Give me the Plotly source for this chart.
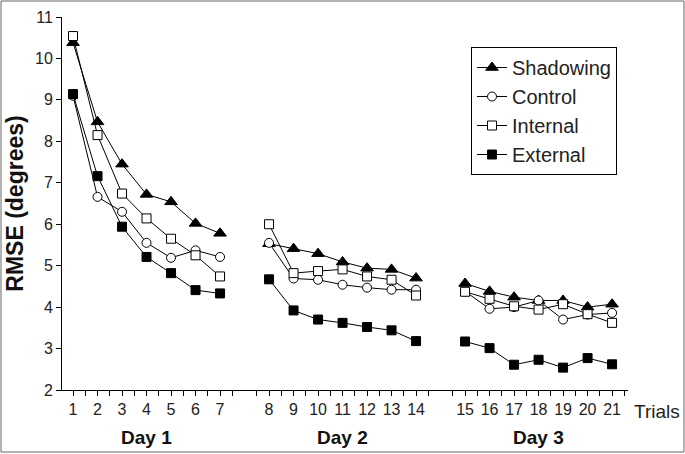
import plotly.graph_objects as go

trials = list(range(1, 22))
days = ["Day 1", "Day 2", "Day 3"]
trials_per_day = 7

shadowing = [10.38, 8.47, 7.45, 6.72, 6.54, 6.02, 5.78,
             5.53, 5.41, 5.29, 5.09, 4.94, 4.91, 4.70,
             4.57, 4.38, 4.24, 4.16, 4.16, 4.00, 4.07]
control = [9.10, 6.66, 6.30, 5.55, 5.19, 5.37, 5.21,
           5.55, 4.69, 4.66, 4.54, 4.47, 4.42, 4.42,
           4.38, 3.96, 4.00, 4.16, 3.70, 3.82, 3.86]
internal = [10.54, 8.15, 6.74, 6.14, 5.65, 5.25, 4.74,
            6.00, 4.82, 4.87, 4.91, 4.74, 4.66, 4.28,
            4.37, 4.20, 4.02, 3.94, 4.07, 3.83, 3.62]
external = [9.14, 7.16, 5.94, 5.21, 4.82, 4.41, 4.33,
            4.67, 3.92, 3.70, 3.62, 3.52, 3.44, 3.18,
            3.17, 3.01, 2.61, 2.73, 2.54, 2.77, 2.62]

series = [
    ("Shadowing", shadowing, "triangle-up", "black", 11),
    ("Control", control, "circle", "white", 9),
    ("Internal", internal, "square", "white", 9),
    ("External", external, "square", "black", 9),
]

def positions(vals):
    xs, ys = [], []
    for i, (t, v) in enumerate(zip(trials, vals)):
        d = i // trials_per_day
        if i > 0 and i % trials_per_day == 0:
            xs.append(None)
            ys.append(None)
        xs.append(t + d)
        ys.append(v)
    return xs, ys

fig = go.Figure()
for k, (name, vals, sym, fill, size) in enumerate(series):
    xs, ys = positions(vals)
    fig.add_trace(go.Scatter(
        x=xs, y=ys, name=name, mode="lines+markers", connectgaps=False,
        legendgroup=name,
        line=dict(color="black", width=1),
        marker=dict(symbol=sym, size=size, color=fill,
                    line=dict(color="black", width=1)),
    ))

tick_pos = [t + (i // trials_per_day) for i, t in enumerate(trials)]
tick_txt = [str(t) for t in trials]

L, R, T, B = 62, 57, 17, 64
W, H = 685, 454
pw, ph = W - L - R, H - T - B

fig.update_layout(
    width=W, height=H, margin=dict(l=L, r=R, t=T, b=B, autoexpand=False),
    paper_bgcolor="white", plot_bgcolor="white",
    font=dict(family="Liberation Sans, Arial, sans-serif", color="#222", size=16),
    showlegend=True,
    legend=dict(x=(471 - L) / pw, y=(H - B - 47) / ph, xanchor="left", yanchor="top",
                bordercolor="black", borderwidth=1, bgcolor="white",
                font=dict(size=20), tracegroupgap=0, itemwidth=30),
    xaxis=dict(range=[0.55, 23.65], tickmode="array", tickvals=tick_pos, ticktext=tick_txt,
               showline=True, linecolor="black", linewidth=1, ticks="outside",
               ticklen=5, tickcolor="black", showgrid=False, zeroline=False,
               tickfont=dict(size=16), automargin=False,
               minor=dict(ticks="outside", ticklen=5, tickcolor="black",
                          tickmode="linear", tick0=0.5, dtick=1)),
    yaxis=dict(range=[2, 11], tickmode="linear", tick0=2, dtick=1,
               showline=True, linecolor="black", linewidth=1, ticks="outside",
               ticklen=5, tickcolor="black", showgrid=False, zeroline=False,
               tickfont=dict(size=16), automargin=False,
               title=dict(text="<b>RMSE (degrees)</b>", font=dict(size=23, color="#111"),
                          standoff=4)),
)

for j, dname in enumerate(days):
    center_trial = j * trials_per_day + 4
    fig.add_annotation(x=center_trial + j, y=-(437 - (H - B)) / ph, xref="x", yref="paper",
                       text="<b>" + dname + "</b>", showarrow=False,
                       font=dict(size=19, color="#111"), yanchor="middle")
fig.add_annotation(x=1.0, y=-(411 - (H - B)) / ph, xref="paper", yref="paper", text="Trials",
                   showarrow=False, xanchor="left", xshift=4, yanchor="middle",
                   font=dict(size=19))

fig.add_shape(type="rect", xref="paper", yref="paper",
              x0=(1 - L) / pw, x1=(W - 1 - L) / pw,
              y0=-(B - 2) / ph, y1=1 + (T - 1) / ph,
              line=dict(color="#666", width=1), fillcolor="rgba(0,0,0,0)", layer="below")

fig.write_html("out.html", config={"displayModeBar": False},
               post_script="document.body.style.margin='0';")
